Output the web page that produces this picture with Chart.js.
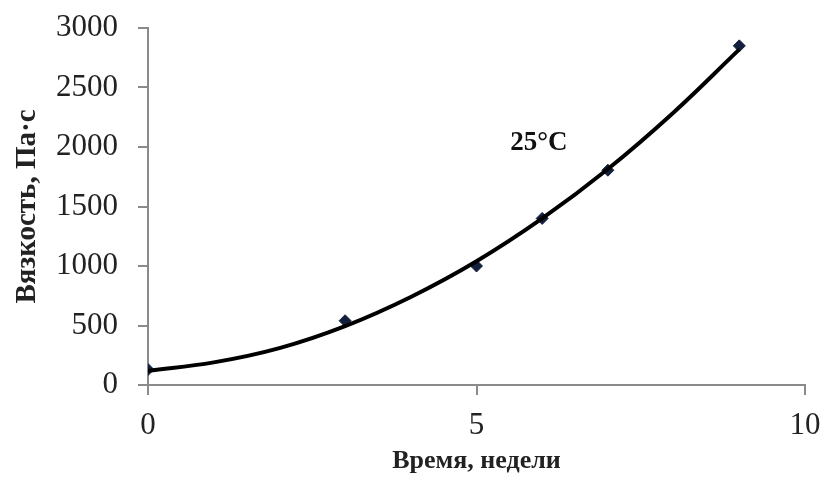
<!DOCTYPE html>
<html><head><meta charset="utf-8">
<script src="https://cdn.jsdelivr.net/npm/chart.js@4/dist/chart.umd.min.js"></script>
<style>html,body{margin:0;padding:0;background:#fff;}#wrap{width:822px;height:477px;}</style>
</head><body><div id="wrap"><canvas id="c"></canvas></div>
<script>
const weeks = [0, 3, 5, 6, 7, 9];
const viscosity = [130, 540, 1000, 1400, 1805, 2850];
const trendWeeks = [0, 1, 2, 3, 4, 5, 6, 7, 8, 9];
const trendValues = [120, 190, 310, 495, 740, 1040, 1400, 1815, 2290, 2820];
const xTicks = [0, 5, 10];
const yTicks = [0, 500, 1000, 1500, 2000, 2500, 3000];
const seriesLabel = '25°C';

const labelPlugin = {
  id: 'seriesLabel',
  afterDatasetsDraw(chart) {
    const ctx = chart.ctx, x = chart.scales.x, y = chart.scales.y;
    ctx.save();
    ctx.font = 'bold 27px "Liberation Serif"';
    ctx.fillStyle = '#111';
    ctx.textAlign = 'center';
    ctx.textBaseline = 'middle';
    ctx.fillText(seriesLabel, x.getPixelForValue(5.95), y.getPixelForValue(2035));
    ctx.restore();
  }
};

new Chart(document.getElementById('c'), {
  type: 'scatter',
  data: {
    datasets: [
      {
        label: 'trend',
        data: trendWeeks.map((w, i) => ({x: w, y: trendValues[i]})),
        showLine: true,
        borderColor: '#000',
        borderWidth: 4,
        tension: 0.4,
        pointRadius: 0,
        fill: false
      },
      {
        label: seriesLabel,
        data: weeks.map((w, i) => ({x: w, y: viscosity[i]})),
        pointStyle: 'rectRot',
        pointRadius: 6,
        backgroundColor: '#13203d',
        borderColor: '#13203d',
        showLine: false
      }
    ]
  },
  options: {
    responsive: true,
    maintainAspectRatio: false,
    animation: false,
    layout: {padding: {top: 28, right: 17, left: 0, bottom: 0}},
    plugins: {legend: {display: false}, tooltip: {enabled: false}},
    scales: {
      x: {
        type: 'linear', min: 0, max: 10,
        afterBuildTicks: s => { s.ticks = xTicks.map(v => ({value: v})); },
        afterFit: s => { s.height = 92; s.paddingLeft = 0; s.paddingRight = 0; },
        border: {display: true, color: '#8a8a8a', width: 2},
        grid: {display: true, drawOnChartArea: false, drawTicks: true, tickLength: 10, color: '#8a8a8a', lineWidth: 2},
        ticks: {color: '#222', padding: 12, font: {family: '"Liberation Serif"', size: 31}, callback: v => String(v)},
        title: {display: true, text: 'Время, недели', color: '#222', padding: {top: 0, bottom: 0},
          font: {family: '"Liberation Serif"', size: 26, weight: 'bold'}}
      },
      y: {
        type: 'linear', min: 0, max: 3000,
        afterBuildTicks: s => { s.ticks = yTicks.map(v => ({value: v})); },
        afterFit: s => { s.width = 148; s.paddingTop = 0; s.paddingBottom = 0; },
        border: {display: true, color: '#8a8a8a', width: 2},
        grid: {display: true, drawOnChartArea: false, drawTicks: true, tickLength: 10, color: '#8a8a8a', lineWidth: 2},
        ticks: {color: '#222', padding: 20, font: {family: '"Liberation Serif"', size: 31}, callback: v => String(v)},
        title: {display: true, text: 'Вязкость, Па·с', color: '#222', padding: {top: 10, bottom: 4},
          font: {family: '"Liberation Serif"', size: 29, weight: 'bold'}}
      }
    }
  },
  plugins: [labelPlugin]
});
</script></body></html>
